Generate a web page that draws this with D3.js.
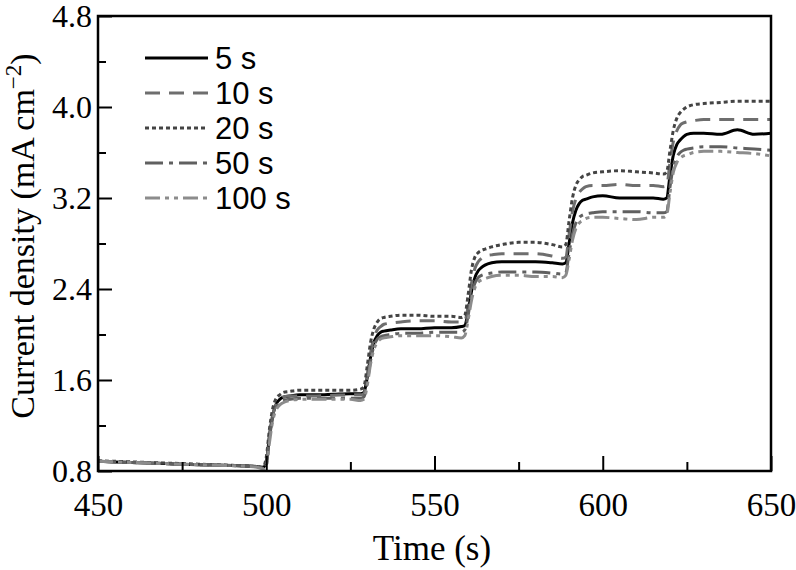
<!DOCTYPE html>
<head>
  <meta charset="utf-8">
  <script src="https://d3js.org/d3.v7.min.js"></script>
  <style>
    body { margin:0; background:#fff; }
    text { fill:#000; }
  </style>
</head>
<body>
<script>

var width = 796, height = 570;
var margin = {top: 16, right: 25, bottom: 99, left: 98};

// shared time axis (s)
var times = [450, 460, 470, 480, 490, 497, 499,
  500, 501, 502, 503, 504, 505, 507, 510, 515, 520, 525, 528, 529,
  530, 531, 532, 533, 534, 535, 537, 540, 545, 550, 555, 558, 559,
  560, 561, 562, 563, 564, 565, 567, 570, 575, 580, 585, 588, 589,
  590, 591, 592, 593, 594, 595, 597, 600, 605, 610, 615, 618, 619,
  620, 621, 622, 623, 624, 625, 627, 630, 635, 640, 645, 650];

// current density (mA cm-2) per pulse length
var s5 = [0.885, 0.875, 0.865, 0.855, 0.848, 0.840, 0.830,
  0.88, 1.12, 1.30, 1.39, 1.43, 1.45, 1.46, 1.47, 1.47, 1.475, 1.48, 1.48, 1.49,
  1.62, 1.80, 1.93, 1.99, 2.02, 2.03, 2.04, 2.05, 2.05, 2.06, 2.06, 2.07, 2.08,
  2.20, 2.38, 2.50, 2.56, 2.59, 2.61, 2.63, 2.64, 2.64, 2.64, 2.63, 2.62, 2.63,
  2.80, 2.98, 3.09, 3.15, 3.18, 3.19, 3.21, 3.22, 3.20, 3.20, 3.20, 3.19, 3.20,
  3.40, 3.58, 3.67, 3.71, 3.74, 3.76, 3.77, 3.77, 3.76, 3.80, 3.76, 3.77];
var s10 = [0.885, 0.875, 0.865, 0.855, 0.848, 0.838, 0.830,
  0.87, 1.12, 1.30, 1.39, 1.43, 1.45, 1.46, 1.46, 1.46, 1.465, 1.47, 1.47, 1.48,
  1.64, 1.84, 1.97, 2.04, 2.07, 2.09, 2.10, 2.11, 2.12, 2.12, 2.11, 2.11, 2.12,
  2.25, 2.45, 2.58, 2.64, 2.67, 2.69, 2.70, 2.71, 2.71, 2.71, 2.69, 2.67, 2.68,
  2.88, 3.08, 3.19, 3.25, 3.28, 3.30, 3.31, 3.31, 3.32, 3.31, 3.31, 3.30, 3.31,
  3.52, 3.70, 3.79, 3.84, 3.86, 3.87, 3.88, 3.89, 3.89, 3.89, 3.89, 3.89];
var s20 = [0.890, 0.880, 0.870, 0.860, 0.850, 0.840, 0.835,
  0.92, 1.18, 1.36, 1.44, 1.47, 1.49, 1.50, 1.51, 1.51, 1.51, 1.51, 1.52, 1.54,
  1.72, 1.93, 2.05, 2.11, 2.14, 2.15, 2.16, 2.17, 2.17, 2.16, 2.16, 2.15, 2.17,
  2.35, 2.57, 2.68, 2.72, 2.74, 2.75, 2.77, 2.79, 2.81, 2.81, 2.79, 2.77, 2.79,
  3.00, 3.20, 3.31, 3.36, 3.39, 3.40, 3.42, 3.43, 3.44, 3.43, 3.42, 3.41, 3.43,
  3.62, 3.80, 3.90, 3.95, 3.98, 4.00, 4.02, 4.03, 4.04, 4.05, 4.05, 4.05];
var s50 = [0.885, 0.875, 0.865, 0.855, 0.848, 0.838, 0.828,
  0.86, 1.10, 1.28, 1.36, 1.40, 1.42, 1.43, 1.44, 1.44, 1.44, 1.44, 1.44, 1.45,
  1.58, 1.77, 1.90, 1.96, 1.98, 1.99, 2.00, 2.01, 2.01, 2.02, 2.02, 2.02, 2.04,
  2.17, 2.35, 2.45, 2.50, 2.52, 2.53, 2.54, 2.55, 2.55, 2.55, 2.54, 2.53, 2.54,
  2.72, 2.88, 2.98, 3.03, 3.05, 3.06, 3.07, 3.08, 3.08, 3.08, 3.07, 3.07, 3.08,
  3.30, 3.48, 3.56, 3.60, 3.62, 3.63, 3.64, 3.65, 3.65, 3.64, 3.63, 3.62];
var s100 = [0.885, 0.875, 0.865, 0.855, 0.846, 0.835, 0.820,
  0.84, 1.06, 1.25, 1.34, 1.38, 1.40, 1.42, 1.43, 1.43, 1.43, 1.43, 1.42, 1.43,
  1.55, 1.74, 1.87, 1.93, 1.96, 1.97, 1.98, 1.99, 1.99, 1.99, 1.98, 1.97, 1.99,
  2.13, 2.30, 2.41, 2.46, 2.48, 2.49, 2.51, 2.52, 2.52, 2.51, 2.51, 2.50, 2.52,
  2.66, 2.83, 2.93, 2.98, 3.00, 3.02, 3.03, 3.03, 3.02, 3.01, 3.03, 3.03, 3.05,
  3.25, 3.43, 3.51, 3.55, 3.57, 3.58, 3.60, 3.61, 3.61, 3.60, 3.59, 3.57];

var labels = ["5 s", "10 s", "20 s", "50 s", "100 s"];
var values = [s5, s10, s20, s50, s100];
var colors = ["#000000", "#6e6e6e", "#444444", "#606060", "#8c8c8c"];
var dashes = [null, "15,9", "4,3", "18,6,4,6", "15,5,4,5,4,5"];

var xMajor = [450, 500, 550, 600, 650];
var xMinor = [475, 525, 575, 625];
var yMajor = [0.8, 1.6, 2.4, 3.2, 4.0, 4.8];
var yMinor = [1.2, 2.0, 2.8, 3.6, 4.4];

var w = width - margin.left - margin.right,
    h = height - margin.top - margin.bottom;

var svg = d3.select("body").append("svg")
  .attr("width", width)
  .attr("height", height);

var g = svg.append("g")
  .attr("transform", "translate(" + margin.left + "," + margin.top + ")");

var x = d3.scaleLinear().domain([450, 650]).range([0, w]);
var y = d3.scaleLinear().domain([0.8, 4.8]).range([h, 0]);

// clip so the curves stay in the frame
g.append("clipPath").attr("id", "clip")
  .append("rect").attr("width", w).attr("height", h);

var line = d3.line()
  .x(function(d) { return x(d[0]); })
  .y(function(d) { return y(d[1]); })
  .curve(d3.curveMonotoneX);

// 5 s drawn first, the grey ones end up on top
for (var i = 0; i < values.length; i++) {
  var pts = times.map(function(t, k) { return [t, values[i][k]]; });
  g.append("path")
    .attr("clip-path", "url(#clip)")
    .attr("d", line(pts))
    .attr("fill", "none")
    .attr("stroke", colors[i])
    .attr("stroke-width", 3)
    .attr("stroke-dasharray", dashes[i]);
}

// axes with inward ticks
var fontSerif = "Liberation Serif, Times New Roman, serif";

var xAxis = g.append("g").attr("transform", "translate(0," + h + ")")
  .call(d3.axisBottom(x).tickValues(xMajor).tickSizeInner(-15).tickSizeOuter(0).tickPadding(22)
    .tickFormat(d3.format("d")));
g.append("g").attr("transform", "translate(0," + h + ")")
  .call(d3.axisBottom(x).tickValues(xMinor).tickSizeInner(-9).tickSizeOuter(0).tickFormat(""));

var yAxis = g.append("g")
  .call(d3.axisLeft(y).tickValues(yMajor).tickSizeInner(-14).tickSizeOuter(0).tickPadding(6)
    .tickFormat(d3.format(".1f")));
g.append("g")
  .call(d3.axisLeft(y).tickValues(yMinor).tickSizeInner(-8).tickSizeOuter(0).tickFormat(""));

xAxis.attr("font-family", fontSerif).attr("font-size", 33);
yAxis.attr("font-family", fontSerif).attr("font-size", 32);

g.selectAll(".domain").remove();
g.selectAll(".tick line").attr("stroke", "#000").attr("stroke-width", 2);
g.selectAll(".tick text").attr("fill", "#000");
xAxis.selectAll(".tick text").attr("dy", "0.71em");
yAxis.selectAll(".tick text").attr("dy", "0.34em");

// frame
g.append("rect")
  .attr("width", w).attr("height", h)
  .attr("fill", "none")
  .attr("stroke", "#000")
  .attr("stroke-width", 2.5);

// axis titles
svg.append("text")
  .attr("x", 432)
  .attr("y", 560)
  .attr("text-anchor", "middle")
  .attr("font-family", fontSerif)
  .attr("font-size", 35)
  .text("Time (s)");

var yt = svg.append("text")
  .attr("transform", "translate(34,236) rotate(-90)")
  .attr("text-anchor", "middle")
  .attr("font-family", fontSerif)
  .attr("font-size", 34);
yt.append("tspan").text("Current density (mA cm");
yt.append("tspan").attr("dy", "-13").attr("font-size", 23).text("\u22122");
yt.append("tspan").attr("dy", "13").text(")");

// legend
var legend = svg.append("g").attr("transform", "translate(145,58)");
labels.forEach(function(lab, i) {
  var row = legend.append("g").attr("transform", "translate(0," + (i * 35) + ")");
  row.append("line")
    .attr("x1", 0).attr("x2", 63).attr("y1", 0).attr("y2", 0)
    .attr("stroke", colors[i])
    .attr("stroke-width", 3)
    .attr("stroke-dasharray", dashes[i]);
  row.append("text")
    .attr("x", 70).attr("y", 0).attr("dy", "0.36em")
    .attr("font-family", "Liberation Sans, Arial, sans-serif")
    .attr("font-size", 31)
    .text(lab);
});

</script>
</body>
